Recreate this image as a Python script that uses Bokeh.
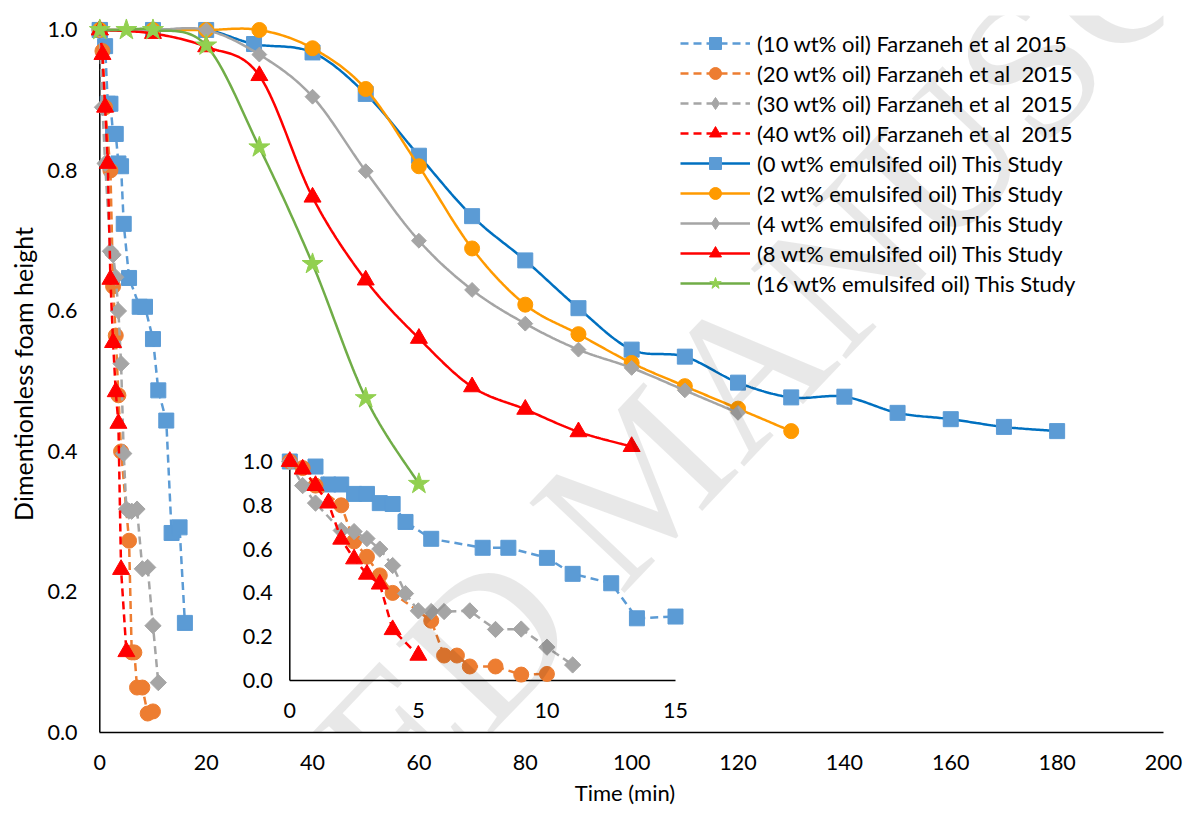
import numpy as np
from bokeh.plotting import figure
from bokeh.models import Range1d, FixedTicker, PrintfTickFormatter, Legend, LegendItem, Label
from bokeh.core.properties import value
from bokeh.embed import file_html
from bokeh.resources import INLINE

FONT = "Lato"
TICK_FS = "21.5px"
LEG_FS = "22px"

# ---------------- data ----------------
# Farzaneh et al. 2015, time (min) vs dimensionless foam height
f10_t = [0, 1, 1.5, 2, 2.5, 3, 3.5, 4, 4.5, 5.5, 7.5, 8.5, 10, 11, 12.5, 13.5, 15, 16]
f10_h = [1.0, 0.977, 0.895, 0.895, 0.852, 0.852, 0.81, 0.806, 0.724, 0.647, 0.606, 0.606,
         0.56, 0.487, 0.444, 0.284, 0.292, 0.156]
f20_t = [0, 0.5, 1, 2, 2.5, 3, 3.5, 4, 5.5, 6, 6.5, 7, 8, 9, 10]
f20_h = [1.0, 0.97, 0.89, 0.80, 0.635, 0.565, 0.48, 0.40, 0.273, 0.114, 0.114, 0.064, 0.064,
         0.027, 0.03]
f30_t = [0, 0.5, 1, 2, 2.5, 3, 3.5, 4, 4.5, 5, 5.5, 6, 7, 8, 9, 10, 11]
f30_h = [1.0, 0.89, 0.81, 0.685, 0.68, 0.648, 0.60, 0.525, 0.397, 0.318, 0.315, 0.315, 0.318,
         0.233, 0.235, 0.152, 0.071]
f40_t = [0, 0.5, 1, 1.5, 2, 2.5, 3, 3.5, 4, 5]
f40_h = [1.0, 0.965, 0.89, 0.81, 0.645, 0.555, 0.485, 0.44, 0.232, 0.115]

# This study, emulsified oil content
s0_t = [0, 10, 20, 29, 40, 50, 60, 70, 80, 90, 100, 110, 120, 130, 140, 150, 160, 170, 180]
s0_h = [1.0, 1.0, 1.0, 0.980, 0.968, 0.909, 0.821, 0.735, 0.672, 0.604, 0.545, 0.535, 0.498,
        0.477, 0.478, 0.455, 0.446, 0.435, 0.429]
s2_t = [0, 10, 20, 30, 40, 50, 60, 70, 80, 90, 100, 110, 120, 130]
s2_h = [1.0, 1.0, 1.0, 1.0, 0.974, 0.916, 0.806, 0.689, 0.609, 0.567, 0.526, 0.493, 0.461, 0.429]
s4_t = [0, 10, 20, 30, 40, 50, 60, 70, 80, 90, 100, 110, 120]
s4_h = [1.0, 1.0, 1.0, 0.965, 0.905, 0.799, 0.700, 0.630, 0.582, 0.545, 0.519, 0.487, 0.455]
s8_t = [0, 10, 20, 30, 40, 50, 60, 70, 80, 90, 100]
s8_h = [1.0, 0.995, 0.976, 0.935, 0.762, 0.644, 0.561, 0.492, 0.460, 0.428, 0.407]
s16_t = [0, 5, 10, 20, 30, 40, 50, 60]
s16_h = [1.0, 1.0, 1.0, 0.978, 0.833, 0.667, 0.476, 0.354]

labels_farz = ["(10 wt% oil) Farzaneh et al 2015",
               "(20 wt% oil) Farzaneh et al  2015",
               "(30 wt% oil) Farzaneh et al  2015",
               "(40 wt% oil) Farzaneh et al  2015"]
labels_study = ["(0 wt% emulsifed oil) This Study",
                "(2 wt% emulsifed oil) This Study",
                "(4 wt% emulsifed oil) This Study",
                "(8 wt% emulsifed oil) This Study",
                "(16 wt% emulsifed oil) This Study"]

x_ticks = [0, 20, 40, 60, 80, 100, 120, 140, 160, 180, 200]
y_ticks = [0.0, 0.2, 0.4, 0.6, 0.8, 1.0]
inset_x_ticks = [0, 5, 10, 15]
inset_y_ticks = [0.0, 0.2, 0.4, 0.6, 0.8, 1.0]

# ---------------- geometry (px) ----------------
W, H = 1184, 814
LEFT, RIGHT, TOP, BOTTOM = 86, 21, 15, 82
FRAME_W = W - LEFT - RIGHT
FRAME_H = H - TOP - BOTTOM
# inset box on the canvas
IN_L, IN_R, IN_B, IN_T = 289.3, 675.0, 680.0, 461.0

ix_ppu = (IN_R - IN_L) / (inset_x_ticks[-1] - inset_x_ticks[0])
iy_ppu = (IN_B - IN_T) / (inset_y_ticks[-1] - inset_y_ticks[0])
ix_start = inset_x_ticks[0] - (IN_L - LEFT) / ix_ppu
iy_start = inset_y_ticks[0] - (TOP + FRAME_H - IN_B) / iy_ppu


def smooth(xs, ys, n=30):
    """Bezier smoothing through the points (Catmull-Rom style control points)."""
    x = np.asarray(xs, float)
    y = np.asarray(ys, float)
    px = np.concatenate([[x[0]], x, [x[-1]]])
    py = np.concatenate([[y[0]], y, [y[-1]]])
    out_x, out_y = [x[0]], [y[0]]
    t = np.linspace(0, 1, n)[1:]
    for i in range(len(x) - 1):
        p0 = np.array([px[i], py[i]])
        p1 = np.array([px[i + 1], py[i + 1]])
        p2 = np.array([px[i + 2], py[i + 2]])
        p3 = np.array([px[i + 3], py[i + 3]])
        c1 = p1 + (p2 - p0) / 6.0
        c2 = p2 - (p3 - p1) / 6.0
        b = ((1 - t) ** 3)[:, None] * p1 + (3 * (1 - t) ** 2 * t)[:, None] * c1 \
            + (3 * (1 - t) * t ** 2)[:, None] * c2 + (t ** 3)[:, None] * p2
        out_x.extend(b[:, 0])
        out_y.extend(b[:, 1])
    return out_x, out_y


p = figure(width=W, height=H, output_backend="svg", toolbar_location=None,
           x_range=Range1d(-2.5, x_ticks[-1]), y_range=Range1d(0, 1.0206),
           min_border_left=LEFT, min_border_right=RIGHT,
           min_border_top=TOP, min_border_bottom=BOTTOM)
p.extra_x_ranges = {"ix": Range1d(ix_start, ix_start + FRAME_W / ix_ppu)}
p.extra_y_ranges = {"iy": Range1d(iy_start, iy_start + FRAME_H / iy_ppu)}
p.outline_line_color = None
p.xgrid.visible = False
p.ygrid.visible = False
p.background_fill_color = "white"
p.border_fill_color = "white"

# axes
xa = p.xaxis[0]
xa.ticker = FixedTicker(ticks=x_ticks)
xa.bounds = (x_ticks[0], x_ticks[-1])
xa.axis_label = "Time (min)"
ya = p.yaxis[0]
ya.ticker = FixedTicker(ticks=y_ticks)
ya.formatter = PrintfTickFormatter(format="%.1f")
ya.axis_label = "Dimentionless foam height"
ya.axis_line_color = None
for ax in (xa, ya):
    ax.major_tick_out = 0
    ax.major_tick_in = 0
    ax.minor_tick_out = 0
    ax.minor_tick_in = 0
    ax.major_label_text_font = FONT
    ax.major_label_text_font_size = TICK_FS
    ax.major_label_text_color = "black"
    ax.axis_label_text_font = FONT
    ax.axis_label_text_font_style = "normal"
    ax.axis_label_text_color = "black"
xa.axis_label_text_font_size = "22px"
ya.axis_label_text_font_size = "25px"
xa.axis_line_color = "black"
xa.axis_line_width = 1.5
xa.major_label_standoff = 22
xa.axis_label_standoff = 6
ya.major_label_standoff = 9
ya.axis_label_standoff = 6

# vertical axis line at t = 0
p.segment(x0=[x_ticks[0]], y0=[y_ticks[0]], x1=[x_ticks[0]], y1=[y_ticks[-1]],
          line_color="black", line_width=1.5)

# inset axes
p.line([inset_x_ticks[0], inset_x_ticks[0]], [inset_y_ticks[0], inset_y_ticks[-1]],
       line_color="black", line_width=1.5, x_range_name="ix", y_range_name="iy")
p.line([inset_x_ticks[0], inset_x_ticks[-1]], [inset_y_ticks[0], inset_y_ticks[0]],
       line_color="black", line_width=1.5, x_range_name="ix", y_range_name="iy")
p.text(x=inset_x_ticks, y=[inset_y_ticks[0]] * len(inset_x_ticks),
       text=[str(v) for v in inset_x_ticks], x_range_name="ix", y_range_name="iy",
       y_offset=22, text_align="center", text_baseline="top",
       text_font=value(FONT), text_font_size=TICK_FS, text_color="black")
p.text(x=[inset_x_ticks[0]] * len(inset_y_ticks), y=inset_y_ticks,
       text=[f"{v:.1f}" for v in inset_y_ticks], x_range_name="ix", y_range_name="iy",
       x_offset=-17, text_align="right", text_baseline="middle",
       text_font=value(FONT), text_font_size=TICK_FS, text_color="black")

items = []
DIAMOND = np.pi / 4  # squares turned on a corner

farz = [
    (f10_t, f10_h, "#5B9BD5", "square", 15, 0.0),
    (f20_t, f20_h, "#ED7D31", "circle", 15, 0.0),
    (f30_t, f30_h, "#A5A5A5", "square", 11.5, DIAMOND),
    (f40_t, f40_h, "#FF0000", "triangle", 17, 0.0),
]


def legend_marker(t, h, ang, col):
    """Scatter used only for the legend swatch; rotated squares get a diamond swatch."""
    if ang:
        return p.scatter(t, h, marker="diamond", size=0, fill_color=col, line_color=col)
    return None


for (t, h, col, mk, sz, ang), lab in zip(farz, labels_farz):
    lr = p.line(t, h, line_color=col, line_width=2.5, line_dash="8 5")
    sr = p.scatter(t, h, marker=mk, size=sz, angle=ang, fill_color=col, line_color=col)
    alt = legend_marker(t, h, ang, col)
    items.append(LegendItem(label=lab, renderers=[lr, alt if alt is not None else sr]))

# inset: the same measurements on an expanded time scale
for t, h, col, mk, sz, ang in farz:
    keep = [i for i, v in enumerate(t) if v <= inset_x_ticks[-1]]
    ti = [t[i] for i in keep]
    hi = [h[i] for i in keep]
    p.line(ti, hi, line_color=col, line_width=2.5, line_dash="8 5",
           x_range_name="ix", y_range_name="iy")
    p.scatter(ti, hi, marker=mk, size=sz, angle=ang, fill_color=col, line_color=col,
              x_range_name="ix", y_range_name="iy")

study = [
    (s0_t, s0_h, "#0070C0", "#5B9BD5", "square", 15, 0.0),
    (s2_t, s2_h, "#FF9A00", "#FF9A00", "circle", 15, 0.0),
    (s4_t, s4_h, "#A5A5A5", "#A5A5A5", "square", 10.5, DIAMOND),
    (s8_t, s8_h, "#FF0000", "#FF0000", "triangle", 17, 0.0),
    (s16_t, s16_h, "#70AD47", "#92D050", "star", 22, 0.0),
]
for (t, h, lcol, mcol, mk, sz, ang), lab in zip(study, labels_study):
    sx, sy = smooth(t, h)
    lr = p.line(sx, sy, line_color=lcol, line_width=2.5)
    sr = p.scatter(t, h, marker=mk, size=sz, angle=ang, fill_color=mcol, line_color=mcol)
    alt = legend_marker(t, h, ang, mcol)
    items.append(LegendItem(label=lab, renderers=[lr, alt if alt is not None else sr]))

legend = Legend(items=items, location=(594, 434), orientation="vertical",
                glyph_width=70, glyph_height=30, label_height=30, label_standoff=7,
                spacing=0, padding=0, margin=0, border_line_color=None,
                background_fill_alpha=0, label_text_font=FONT,
                label_text_font_size=LEG_FS, label_text_color="black")
p.add_layout(legend)

# diagonal watermark
p.add_layout(Label(x=102.0, y=0.365, text="ACCEPTED MANUSCRIPT", angle=46.6,
                   angle_units="deg", text_font="Liberation Serif",
                   text_font_size="200px", text_color="black", text_alpha=0.09,
                   text_align="center", text_baseline="middle"))

open("out.html", "w").write(file_html(p, INLINE))
